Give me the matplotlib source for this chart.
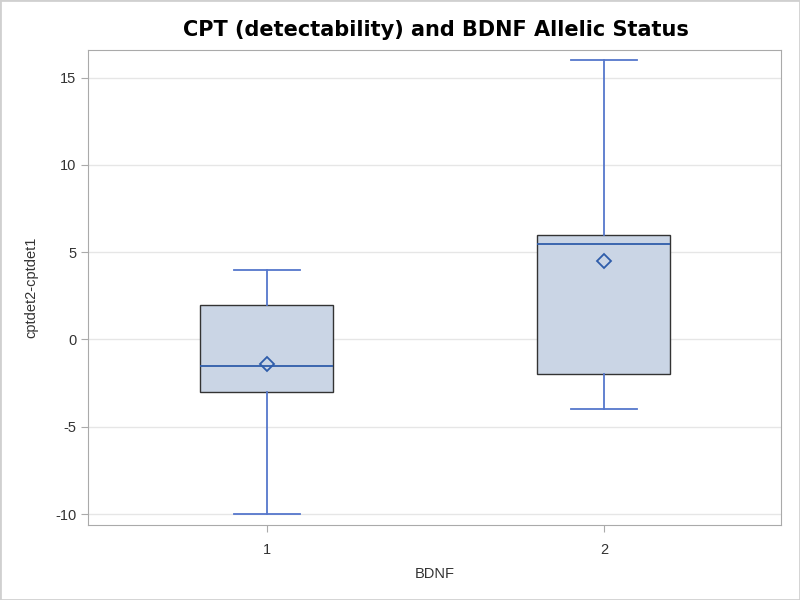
import matplotlib.pyplot as plt

plt.rcParams['font.family'] = ['Liberation Sans', 'DejaVu Sans']
plt.rcParams['axes.unicode_minus'] = False

groups = ['1', '2']
q1 = [-3, -2]
q3 = [2, 6]
medians = [-1.5, 5.5]
means = [-1.4, 4.5]
whislo = [-10, -4]
whishi = [4, 16]

stats = []
for i in range(len(groups)):
    stats.append({'label': groups[i], 'q1': q1[i], 'q3': q3[i], 'med': medians[i],
                  'mean': means[i], 'whislo': whislo[i], 'whishi': whishi[i], 'fliers': []})

fig = plt.figure(figsize=(8, 6), dpi=100)
ax = fig.add_axes([0.11, 0.125, 0.866, 0.792])

ax.bxp(stats, positions=[1, 2], widths=0.395, showmeans=True, patch_artist=True,
       boxprops=dict(facecolor='#CAD5E5', edgecolor='#333333', linewidth=1.0),
       whiskerprops=dict(color='#5577CC', linewidth=1.3),
       capprops=dict(color='#5577CC', linewidth=1.3),
       medianprops=dict(color='#2F5DAA', linewidth=1.3),
       meanprops=dict(marker='D', markerfacecolor='none', markeredgecolor='#2F5DAA',
                      markersize=7, markeredgewidth=1.3),
       capwidths=0.196, zorder=3)

ax.set_xlim(0.469, 2.525)
ax.set_ylim(-10.63, 16.6)
ax.set_yticks([-10, -5, 0, 5, 10, 15])
ax.yaxis.grid(True, color='#E6E6E6', linewidth=1)
ax.set_axisbelow(True)
for s in ax.spines.values():
    s.set_color('#AAAAAA')
ax.tick_params(colors='#333333', labelsize=10.5)
ax.tick_params(axis='both', color='#AAAAAA', length=5)
ax.tick_params(axis='x', pad=8)

ax.set_xlabel('BDNF', fontsize=10.5, color='#333333', labelpad=7)
ax.set_ylabel('cptdet2-cptdet1', fontsize=10.5, color='#333333', labelpad=12)
fig.suptitle('CPT (detectability) and BDNF Allelic Status', fontsize=15,
             fontweight='bold', family='DejaVu Sans', y=0.967, x=0.545)

fig.patches.append(plt.Rectangle((0, 0), 1, 1, transform=fig.transFigure,
                                 fill=False, edgecolor='#D0D0D0', linewidth=2))
fig.savefig('out.png', dpi=100)
